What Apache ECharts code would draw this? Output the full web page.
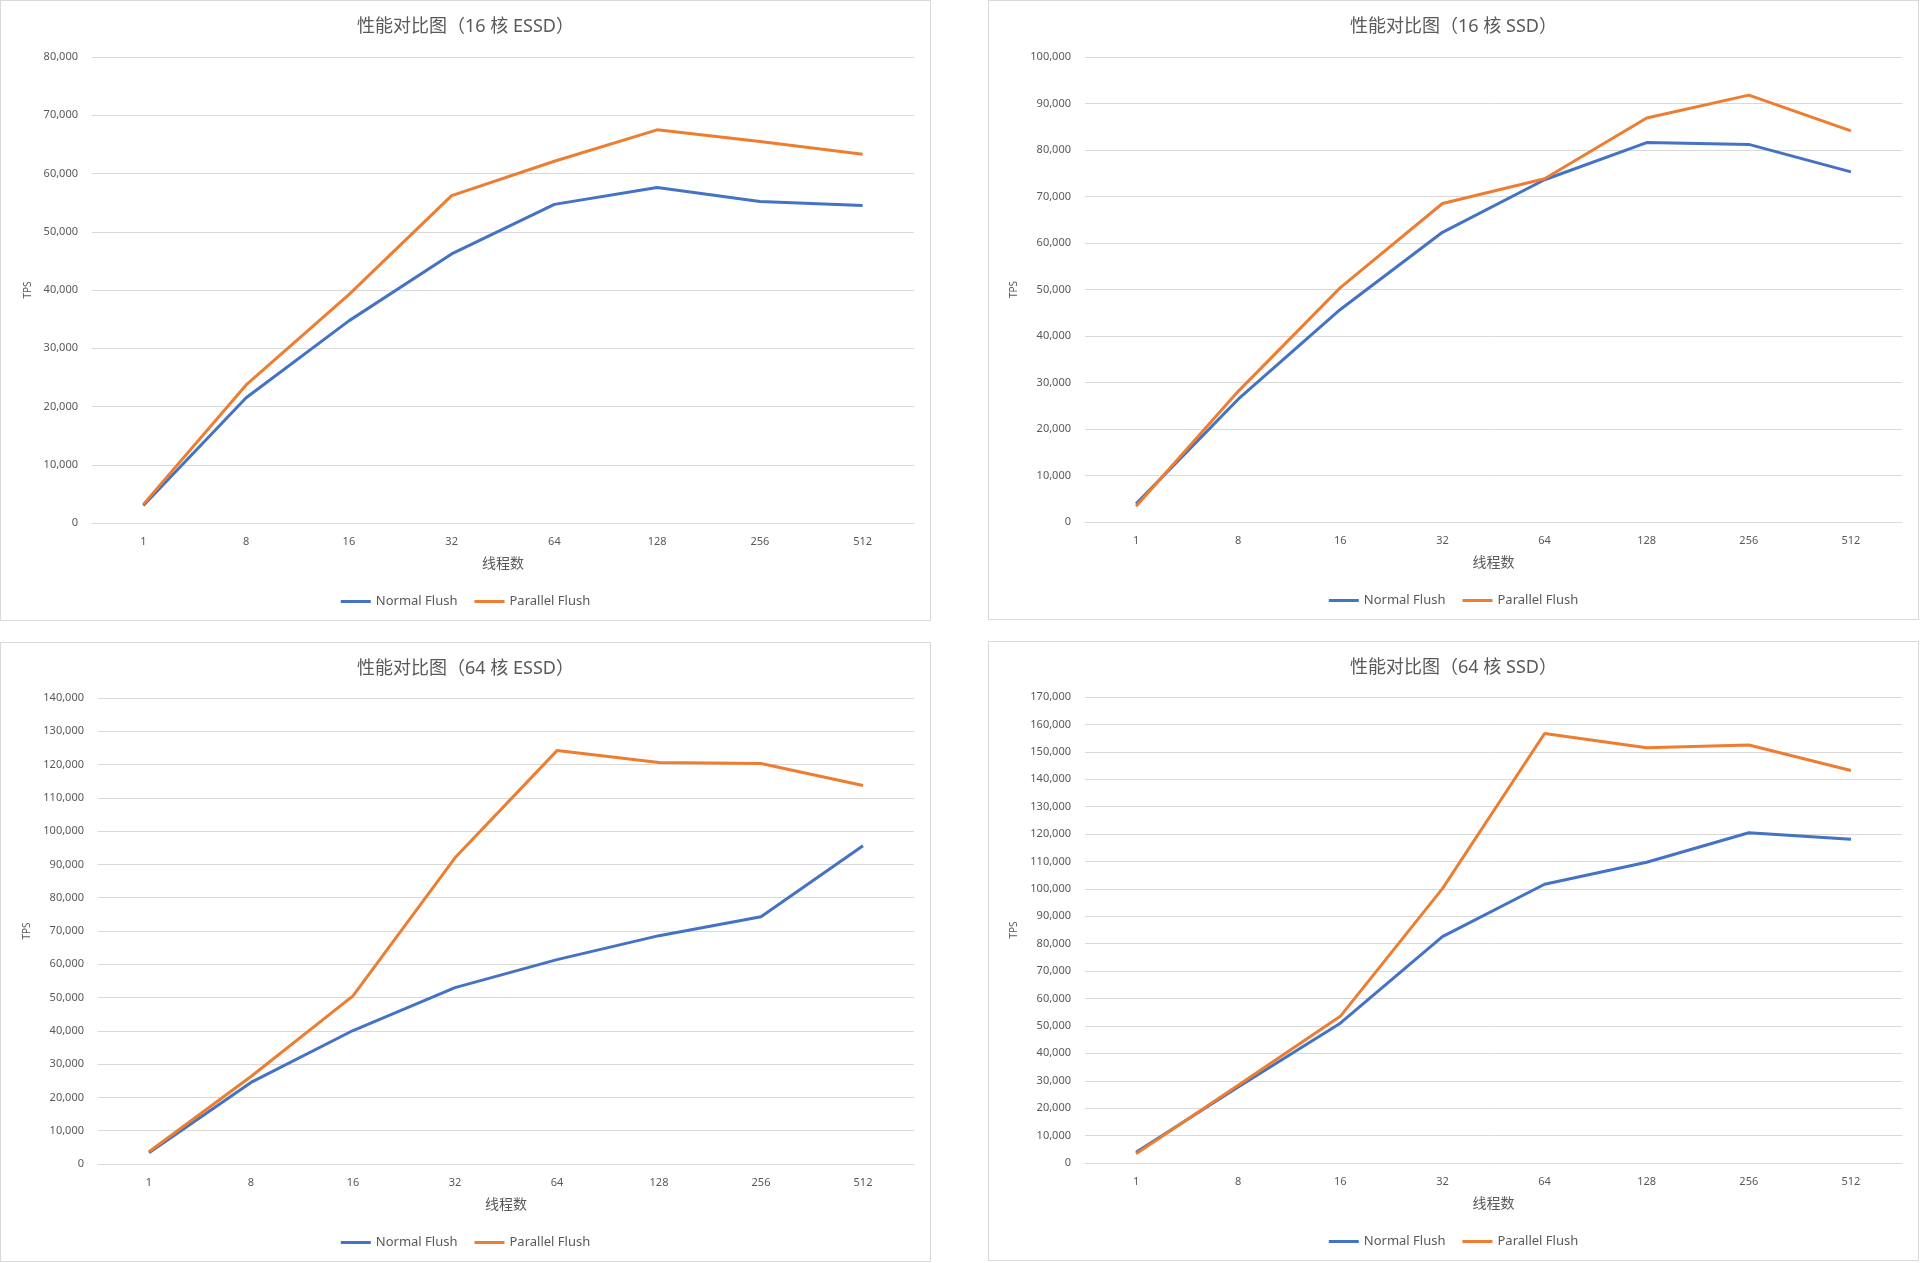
<!DOCTYPE html>
<html>
<head>
<meta charset="utf-8">
<script src="https://cdn.jsdelivr.net/npm/echarts@6/dist/echarts.min.js"></script>
<style>
  html, body { margin: 0; padding: 0; background: #fff; }
  body { width: 1920px; height: 1263px; position: relative; overflow: hidden; }
  .panel { position: absolute; box-sizing: border-box; border: 1px solid #d9d9d9; background: #fff; }
</style>
</head>
<body>
<div class="panel" id="c1" style="left:0;top:0;width:931px;height:621px"></div>
<div class="panel" id="c2" style="left:988px;top:0;width:931px;height:620px"></div>
<div class="panel" id="c3" style="left:0;top:642px;width:931px;height:620px"></div>
<div class="panel" id="c4" style="left:988px;top:641px;width:931px;height:620px"></div>
<script>
const threadCounts = ["1", "8", "16", "32", "64", "128", "256", "512"];
const seriesNames = ["Normal Flush", "Parallel Flush"];

// 16 核 ESSD
const essd16Normal = [3000, 21500, 34700, 46200, 54700, 57600, 55200, 54500];
const essd16Parallel = [3200, 23700, 39200, 56200, 62100, 67500, 65500, 63300];
// 16 核 SSD
const ssd16Normal = [3900, 26400, 45700, 62300, 73600, 81600, 81200, 75300];
const ssd16Parallel = [3400, 28100, 50400, 68500, 73800, 86900, 91800, 84100];
// 64 核 ESSD
const essd64Normal = [3400, 24500, 40100, 53000, 61400, 68600, 74300, 95600];
const essd64Parallel = [3700, 26300, 50500, 92000, 124200, 120600, 120300, 113700];
// 64 核 SSD
const ssd64Normal = [3900, 27700, 51000, 82600, 101700, 109700, 120500, 118100];
const ssd64Parallel = [3400, 28400, 53500, 100100, 156700, 151500, 152500, 143200];

const titles = ["性能对比图（16 核 ESSD）", "性能对比图（16 核 SSD）", "性能对比图（64 核 ESSD）", "性能对比图（64 核 SSD）"];
const yMax = [80000, 100000, 140000, 170000];

const FONT = "'Noto Sans', 'Noto Sans CJK SC', sans-serif";
const TEXT = "#595959";
const GRIDLINE = "#d9d9d9";

function buildOption(title, max, normal, parallel, grid, tpsGap) {
  return {
    animation: false,
    textStyle: { fontFamily: FONT },
    title: {
      text: title,
      left: "center",
      top: 17,
      padding: 0,
      textStyle: { fontSize: 18, fontWeight: "normal", color: TEXT, fontFamily: FONT },
    },
    grid: grid,
    legend: {
      bottom: 7,
      left: "center",
      icon: "rect",
      itemWidth: 30,
      itemHeight: 3,
      itemGap: 17,
      itemTextGap: 2,
      textStyle: { fontSize: 13, color: TEXT },
      data: seriesNames,
    },
    xAxis: {
      type: "category",
      data: threadCounts,
      boundaryGap: true,
      name: "线程数",
      nameLocation: "middle",
      nameGap: 34,
      nameTextStyle: { fontSize: 14, color: TEXT },
      axisLine: { lineStyle: { color: GRIDLINE, width: 1 } },
      axisTick: { show: false },
      axisLabel: { color: TEXT, fontSize: 11, margin: 13 },
    },
    yAxis: {
      type: "value",
      min: 0,
      max: max,
      interval: 10000,
      name: "TPS",
      nameLocation: "middle",
      nameGap: tpsGap,
      nameTextStyle: { fontSize: 10, color: TEXT },
      axisLine: { show: false },
      axisTick: { show: false },
      axisLabel: {
        color: TEXT,
        fontSize: 11,
        margin: 14,
        formatter: function (v) { return v.toLocaleString("en-US"); },
      },
      splitLine: { lineStyle: { color: GRIDLINE, width: 1 } },
    },
    series: [
      {
        name: seriesNames[0],
        type: "line",
        data: normal,
        symbol: "none",
        lineStyle: { color: "#4472C4", width: 3 },
        itemStyle: { color: "#4472C4" },
      },
      {
        name: seriesNames[1],
        type: "line",
        data: parallel,
        symbol: "none",
        lineStyle: { color: "#ED7D31", width: 3 },
        itemStyle: { color: "#ED7D31" },
      },
    ],
  };
}

const panels = [
  { id: "c1", normal: essd16Normal, parallel: essd16Parallel, grid: { left: 91, right: 16, top: 56, bottom: 97 }, gap: 57 },
  { id: "c2", normal: ssd16Normal, parallel: ssd16Parallel, grid: { left: 96, right: 16, top: 56, bottom: 97 }, gap: 63 },
  { id: "c3", normal: essd64Normal, parallel: essd64Parallel, grid: { left: 97, right: 16, top: 55, bottom: 97 }, gap: 63 },
  { id: "c4", normal: ssd64Normal, parallel: ssd64Parallel, grid: { left: 96, right: 16, top: 55, bottom: 97 }, gap: 63 },
];

panels.forEach(function (p, i) {
  const chart = echarts.init(document.getElementById(p.id));
  chart.setOption(buildOption(titles[i], yMax[i], p.normal, p.parallel, p.grid, p.gap));
});
</script>
</body>
</html>
